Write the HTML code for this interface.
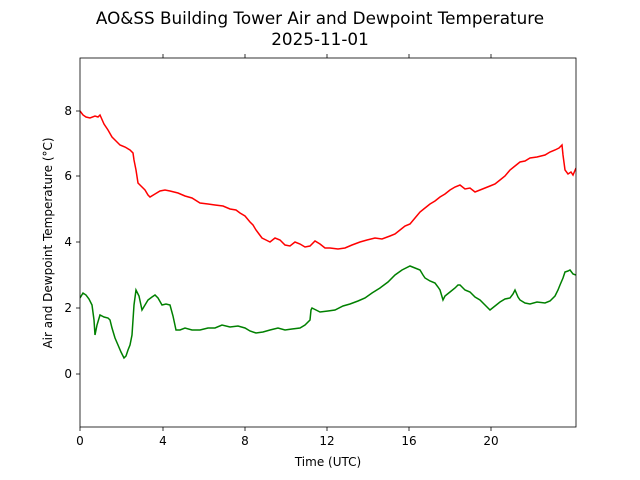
<!DOCTYPE html>
<html><head><meta charset="utf-8"><style>body{margin:0;background:#fff}svg{display:block}text{font-family:"DejaVu Sans","Liberation Sans",sans-serif;fill:#000}</style></head>
<body>
<svg width="640" height="480" viewBox="0 0 640 480" xmlns="http://www.w3.org/2000/svg">
<rect width="640" height="480" fill="#fff"/>
<text x="320" y="24" font-size="16.8" text-anchor="middle">AO&amp;SS Building Tower Air and Dewpoint Temperature</text>
<text x="320" y="45" font-size="16.8" text-anchor="middle">2025-11-01</text>
<g clip-path="url(#c)">
<clipPath id="c"><rect x="80" y="58" width="496" height="369"/></clipPath>
<polyline fill="none" stroke="#ff0000" stroke-width="1.5" points="80,111 83,115 86,117 90,118 95,116 98,117 100,115 104,124 108,130 112,137 116,141 120,145 125,147 130,150 133,153 134,160 136,170 138,183 141,186 145,190 148,195 150,197 155,194 160,191 165,190 170,191 178,193 185,196 192,198 200,203 208,204 215,205 223,206 230,209 236,210 240,213 245,216 250,222 253,225 256,230 259,234 262,238 266,240 270,242 275,238 280,240 285,245 290,246 295,242 300,244 305,247 310,246 315,241 320,244 325,248 330,248 338,249 345,248 352,245 360,242 367,240 375,238 382,239 390,236 395,234 400,230 405,226 410,224 415,218 420,212 425,208 430,204 435,201 440,197 445,194 450,190 455,187 460,185 465,189 470,188 475,192 480,190 485,188 490,186 495,184 500,180 505,176 510,170 515,166 520,162 525,161 530,158 537,157 545,155 550,152 555,150 559,148 562,145 563,155 565,170 568,174 571,172 573,175 576,168"/>
<polyline fill="none" stroke="#008000" stroke-width="1.5" points="80,298 83,293 86,295 89,299 92,305 94,320 95,335 97,325 100,315 104,317 108,318 110,320 112,328 115,338 118,345 121,352 124,358 126,356 128,350 130,345 132,335 134,305 136,290 139,296 142,310 145,305 148,300 152,297 155,295 158,298 162,305 166,304 170,305 173,316 176,330 180,330 185,328 192,330 200,330 208,328 215,328 222,325 230,327 238,326 245,328 250,331 256,333 263,332 270,330 278,328 285,330 292,329 300,328 305,325 310,320 311,310 312,308 316,310 320,312 328,311 335,310 343,306 350,304 358,301 365,298 372,293 380,288 388,282 395,275 402,270 410,266 415,268 420,270 423,275 425,278 430,281 435,283 438,287 440,290 443,300 445,296 450,292 455,288 458,285 460,285 465,290 470,292 475,297 480,300 485,305 490,310 495,306 500,302 505,299 510,298 513,294 515,290 518,297 520,300 525,303 530,304 537,302 545,303 550,301 555,296 558,290 560,285 563,278 565,272 568,271 570,270 573,274 576,275"/>
</g>
<rect x="80" y="58" width="496" height="369" fill="none" stroke="#000" stroke-width="0.8"/>
<g stroke="#000" stroke-width="0.8">
<line x1="80" y1="427" x2="80" y2="431"/><line x1="163" y1="427" x2="163" y2="431"/><line x1="245" y1="427" x2="245" y2="431"/><line x1="327" y1="427" x2="327" y2="431"/><line x1="409" y1="427" x2="409" y2="431"/><line x1="491" y1="427" x2="491" y2="431"/>
<line x1="163" y1="58" x2="163" y2="54"/><line x1="245" y1="58" x2="245" y2="54"/><line x1="327" y1="58" x2="327" y2="54"/><line x1="409" y1="58" x2="409" y2="54"/><line x1="491" y1="58" x2="491" y2="54"/>
<line x1="80" y1="374" x2="76" y2="374"/><line x1="80" y1="308" x2="76" y2="308"/><line x1="80" y1="242" x2="76" y2="242"/><line x1="80" y1="176" x2="76" y2="176"/><line x1="80" y1="111" x2="76" y2="111"/>
</g>
<g font-size="12">
<text x="80" y="445" text-anchor="middle">0</text><text x="163" y="445" text-anchor="middle">4</text><text x="245" y="445" text-anchor="middle">8</text><text x="327" y="445" text-anchor="middle">12</text><text x="409" y="445" text-anchor="middle">16</text><text x="491" y="445" text-anchor="middle">20</text>
<text x="72" y="378" text-anchor="end">0</text><text x="72" y="312" text-anchor="end">2</text><text x="72" y="246" text-anchor="end">4</text><text x="72" y="180" text-anchor="end">6</text><text x="72" y="115" text-anchor="end">8</text>
<text x="328" y="466" text-anchor="middle">Time (UTC)</text>
<text transform="translate(52,243) rotate(-90)" text-anchor="middle">Air and Dewpoint Temperature (°C)</text>
</g>
</svg>
</body></html>
